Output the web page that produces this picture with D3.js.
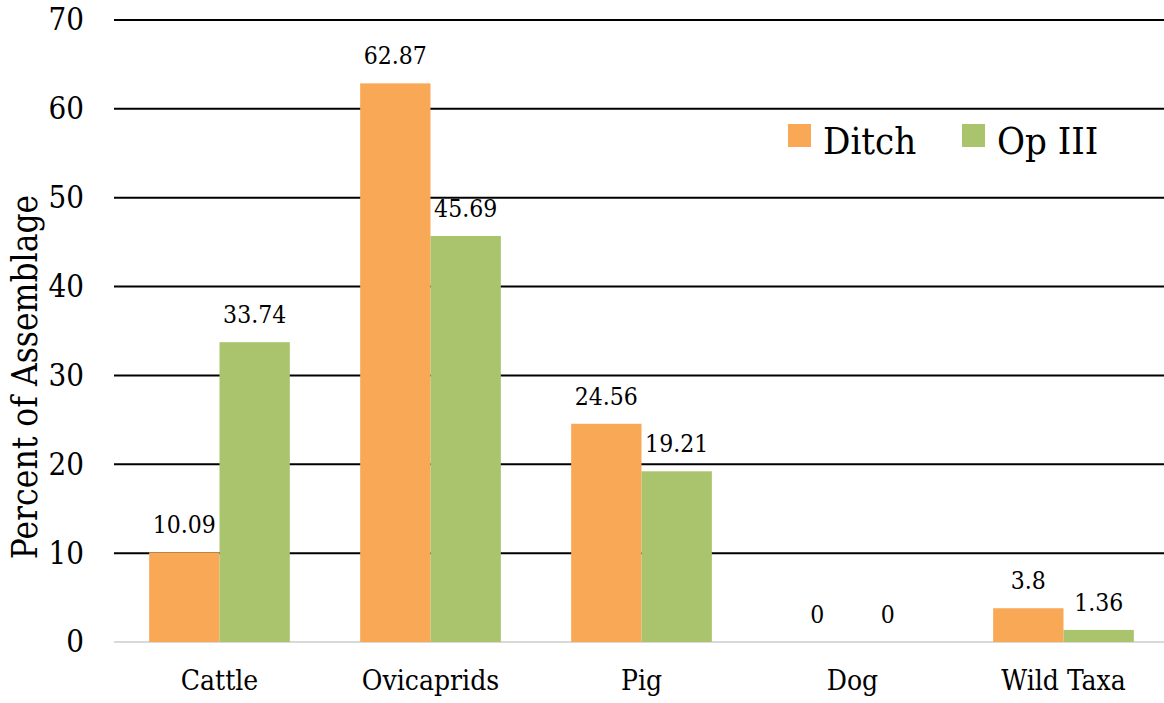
<!DOCTYPE html>
<html><head><meta charset="utf-8">
<script src="https://cdn.jsdelivr.net/npm/d3@7"></script>
<style>body{margin:0;background:#fff}svg{display:block}text{font-family:"DejaVu Serif Condensed","DejaVu Serif",serif;fill:#000}</style>
</head><body>
<script>
const categories = ["Cattle","Ovicaprids","Pig","Dog","Wild Taxa"];
const seriesNames = ["Ditch","Op III"];
const ditch = [10.09, 62.87, 24.56, 0, 3.8];
const op3 = [33.74, 45.69, 19.21, 0, 1.36];
const yTicks = [0,10,20,30,40,50,60,70];
const colors = ["#F9A856","#A9C46C"];

const W=1164,H=703;
const svg=d3.select("body").append("svg").attr("width",W).attr("height",H);
const x=d3.scaleBand().domain(categories).range([114,1169]).paddingInner(1/3).paddingOuter(1/6);
const xs=d3.scaleBand().domain(seriesNames).range([0,x.bandwidth()]);
const y=d3.scaleLinear().domain([0,70]).range([642,20]);

// gridlines
svg.append("g").selectAll("line").data(yTicks).join("line")
  .attr("x1",114).attr("x2",W).attr("y1",d=>y(d)).attr("y2",d=>y(d))
  .attr("stroke",d=>d===0?"#d9d9d9":"#000").attr("stroke-width",2);

// y tick labels
const yAxis=d3.axisLeft(y).tickValues(yTicks).tickSize(0).tickPadding(0);
const ga=svg.append("g").attr("transform","translate(84,0)").call(yAxis);
ga.select(".domain").remove();
ga.selectAll("text").attr("font-size",31).attr("font-family","'DejaVu Serif Condensed','DejaVu Serif',serif").attr("fill","#000");

// bars
const data=[ditch,op3];
data.forEach((vals,si)=>{
  const g=svg.append("g");
  g.selectAll("rect").data(vals).join("rect")
    .attr("x",(d,i)=>x(categories[i])+xs(seriesNames[si]))
    .attr("width",xs.bandwidth())
    .attr("y",d=>y(d)).attr("height",d=>y(0)-y(d))
    .attr("fill",colors[si]);
  g.selectAll("text").data(vals).join("text")
    .attr("x",(d,i)=>x(categories[i])+xs(seriesNames[si])+xs.bandwidth()/2)
    .attr("y",d=>y(d)-19)
    .attr("text-anchor","middle").attr("font-size",24.5)
    .text(d=>d);
});

// x labels
const xAxis=d3.axisBottom(x).tickSize(0).tickPadding(0);
const gx=svg.append("g").attr("transform","translate(0,670)").call(xAxis);
gx.select(".domain").remove();
gx.selectAll("text").attr("font-size",28).attr("dy","0.7em").attr("font-family","'DejaVu Serif Condensed','DejaVu Serif',serif").attr("fill","#000");

// y title
svg.append("text").attr("transform","translate(37,377) rotate(-90)")
  .attr("text-anchor","middle").attr("font-size",35)
  .attr("font-family","'DejaVu Serif Condensed','DejaVu Serif',serif").text("Percent of Assemblage");

// legend
const legX=[788,962];
seriesNames.forEach((n,i)=>{
  svg.append("rect").attr("x",legX[i]).attr("y",124).attr("width",23).attr("height",23).attr("fill",colors[i]);
  svg.append("text").attr("x",legX[i]+35).attr("y",154).attr("font-size",38).text(n);
});
</script>
</body></html>
